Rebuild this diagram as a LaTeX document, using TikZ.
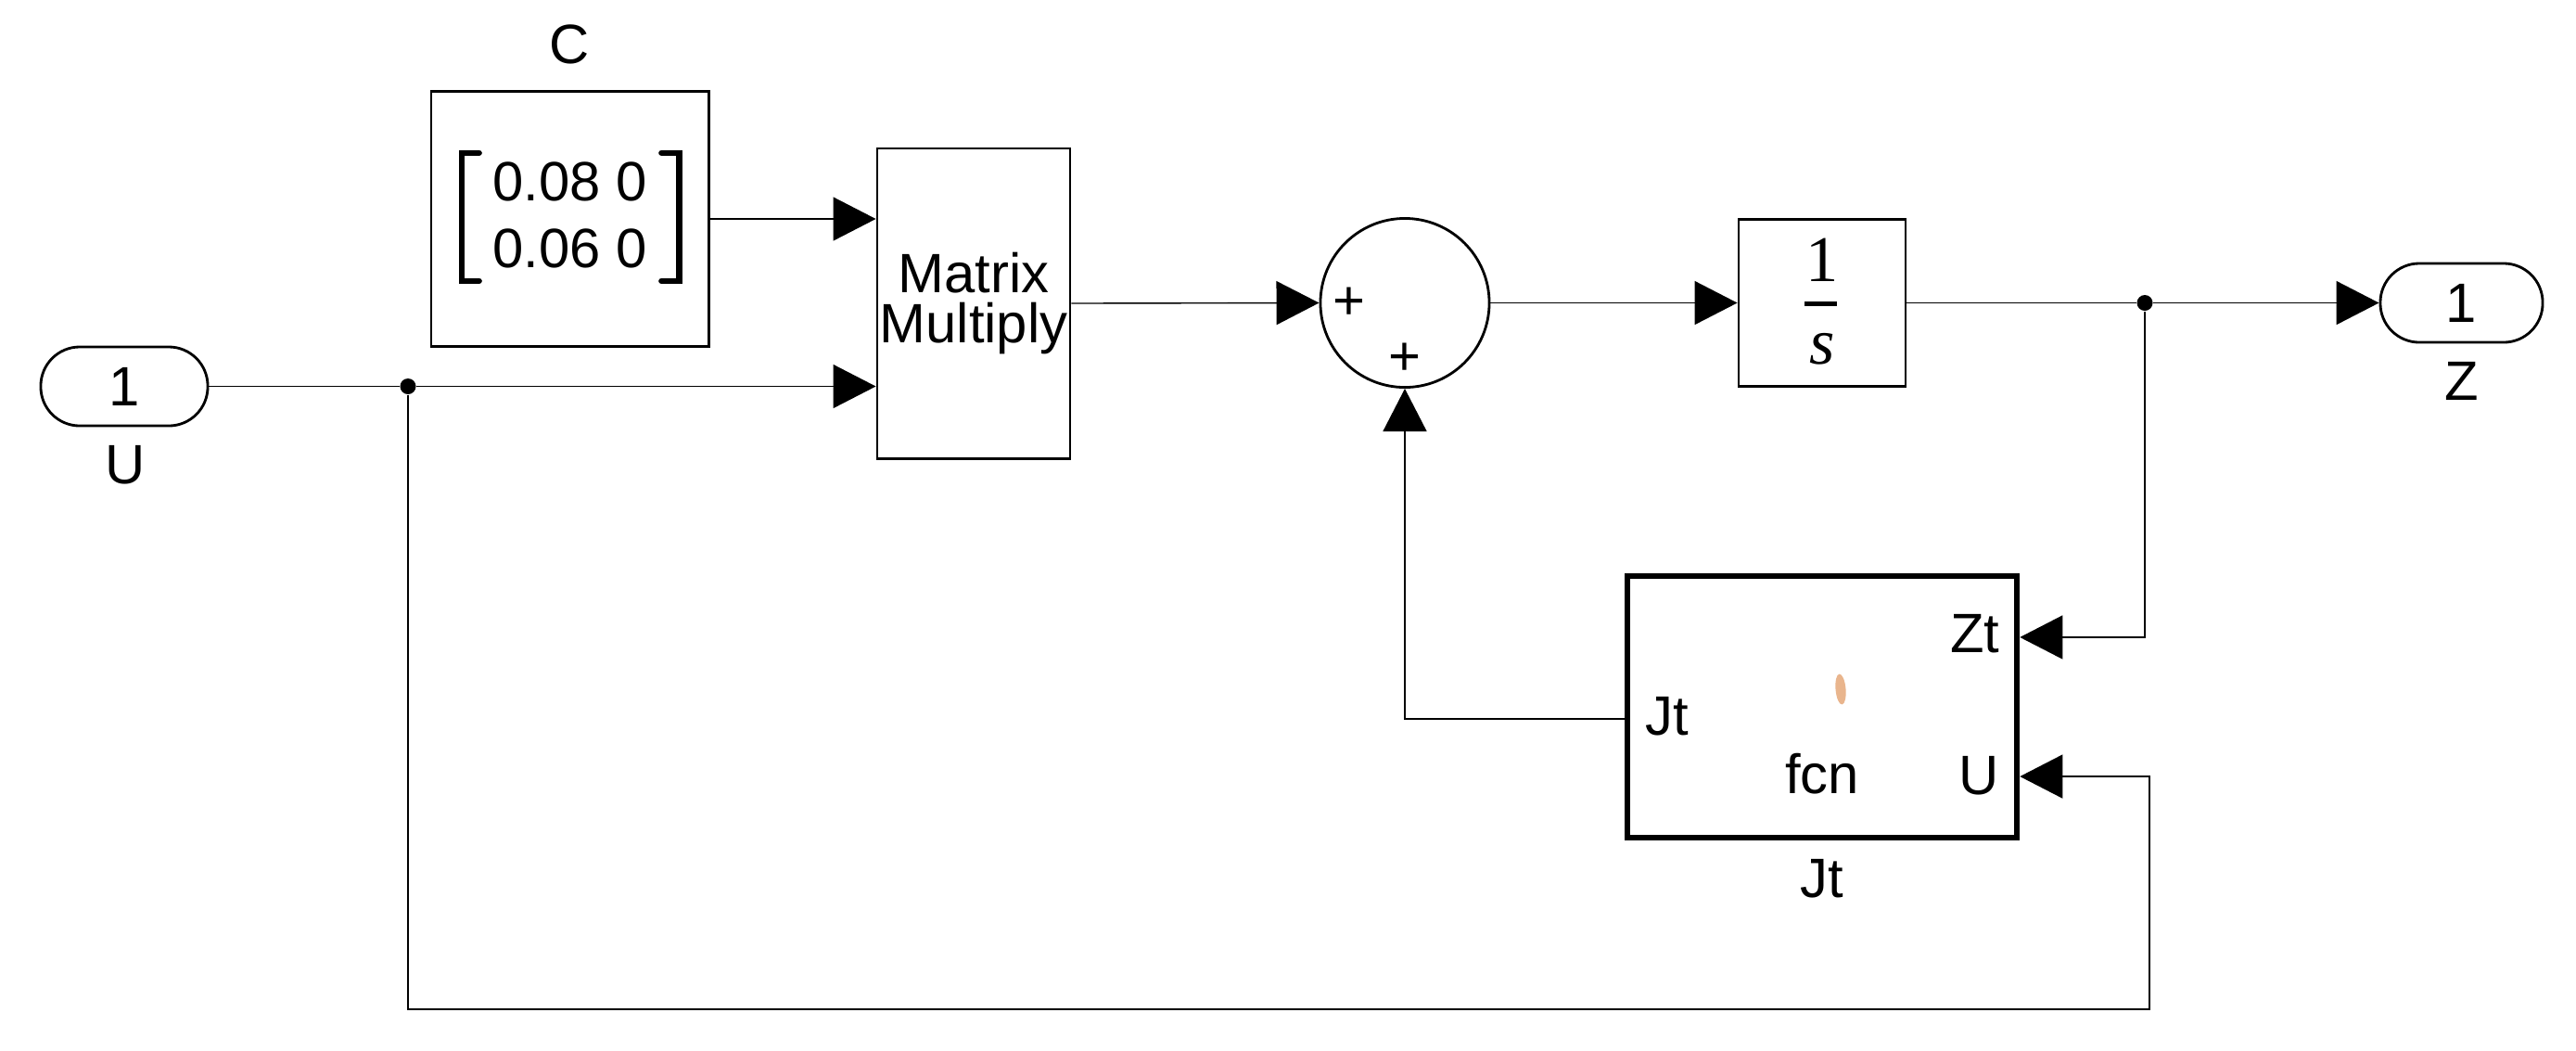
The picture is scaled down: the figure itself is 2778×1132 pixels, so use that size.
\documentclass[tikz,border=0pt]{standalone}
\usepackage{fontspec}
\setmainfont{Liberation Sans}
\setsansfont{Liberation Sans}
\newfontfamily\gainfont{Liberation Serif}
\usetikzlibrary{arrows.meta}
\usetikzlibrary{shapes}
\definecolor{fcnmark}{RGB}{233,181,141}

\begin{document}
\begin{tikzpicture}[x = 0.01cm, y = -0.01cm, font=\sffamily\fontsize{17}{20}\selectfont]
	\tikzstyle{blockStyle} = [draw, line width = 0.8pt, inner sep = 0pt]
	\tikzstyle{portStyle} = [draw, line width = 0.8pt, rounded corners = 4.2mm, minimum height = 0.85cm, inner sep = 0pt]
	\tikzstyle{sumStyle} = [draw, circle, line width = 0.8pt, minimum size = 1.82cm, inner sep = 0pt]
	\tikzstyle{fcnStyle} = [draw, line width = 1.8pt, minimum width = 4.2cm, minimum height = 2.82cm]
	\tikzstyle{dotStyle} = [circle, fill, minimum size = 0.17cm, inner sep = 0pt]
	\tikzstyle{labelStyle} = [inner sep = 0pt]
	\tikzstyle{wireStyle} = [line width = 0.4pt]
	\tikzstyle{signalStyle} = [line width = 0.4pt, -{Triangle[length = 0.46cm, width = 0.47cm]}]
	\tikzstyle{bracketStyle} = [line width = 1.8pt, line cap = round]
	\tikzstyle{gainStyle} = [inner sep = 0pt, font = \gainfont\fontsize{20}{24}\selectfont]
	\useasboundingbox (0, 0) rectangle (2778, 1132);
	\node[portStyle, minimum width = 1.80cm] (Uin) at (134, 416.5) {1};
	\node[labelStyle] (Ulabel) at (135, 501) {U};
	\node[blockStyle, minimum width = 2.99cm, minimum height = 2.75cm] (Cblk) at (614.5, 236) {};
	\node[labelStyle] (Clabel) at (614, 48) {C};
	\node[labelStyle, align = center, font = \sffamily\fontsize{17}{20.7}\selectfont] (Cval) at (614.5, 232) {0.08 0\\0.06 0};
	\node[blockStyle, minimum width = 2.08cm, minimum height = 3.34cm, align = center, font = \sffamily\fontsize{17}{15.3}\selectfont] (Mult) at (1050, 327) {Matrix\\Multiply};
	\node[sumStyle] (Sum) at (1515, 326.5) {};
	\node[labelStyle] (SumA) at (1455, 327) {+};
	\node[labelStyle] (SumB) at (1515, 387) {+};
	\node[blockStyle, minimum width = 1.80cm, minimum height = 1.80cm] (Int) at (1965, 326.5) {};
	\node[gainStyle] (IntNum) at (1965, 280) {1};
	\node[fill, minimum width = 0.35cm, minimum height = 0.05cm, inner sep = 0pt] (IntBar) at (1963, 327) {};
	\node[gainStyle, font = \gainfont\itshape\fontsize{20}{24}\selectfont] (IntDen) at (1965, 376) {s};
	\node[portStyle, minimum width = 1.75cm] (Zout) at (2654.5, 326.5) {1};
	\node[labelStyle] (Zlabel) at (2655, 411) {Z};
	\node[fcnStyle] (Jt) at (1965, 762) {};
	\node[labelStyle] (Jtlabel) at (1965, 947) {Jt};
	\node[labelStyle, anchor = east] (ZtText) at (2157, 683) {Zt};
	\node[labelStyle, anchor = east] (UText) at (2156, 836) {U};
	\node[labelStyle, anchor = west] (JtText) at (1774, 772) {Jt};
	\node[labelStyle] (fcnText) at (1965, 834) {fcn};
	\fill[fcnmark, rotate around = {5:(1985, 743)}] (1985, 743) ellipse (0.055cm and 0.165cm);
	\node[dotStyle] (dotU) at (440, 416.5) {};
	\node[dotStyle] (dotZ) at (2313, 326.5) {};
	\coordinate (JtZt) at ([yshift = 0.75cm]Jt.east);
	\coordinate (JtU) at ([yshift = -0.75cm]Jt.east);
	\coordinate (JtOut) at ([yshift = -0.13cm]Jt.west);
	\coordinate (uturn) at (2318, 1088);
	\draw[bracketStyle] ([shift = {(-0.14cm, 0.09cm)}]Cval.north west) -- ++(-0.19cm, 0) -- ++(0, -1.38cm) -- ++(0.19cm, 0);
	\draw[bracketStyle] ([shift = {(0.15cm, 0.09cm)}]Cval.north east) -- ++(0.19cm, 0) -- ++(0, -1.38cm) -- ++(-0.19cm, 0);
	\draw[signalStyle] (Cblk.east) -- (Cblk.east -| Mult.west);
	\draw[wireStyle] (Uin.east) -- (dotU);
	\draw[signalStyle] (dotU) -- (dotU -| Mult.west);
	\draw[signalStyle] (Mult.east) -- (Sum.west);
	\draw[signalStyle] (Sum.east) -- (Int.west);
	\draw[wireStyle] (Int.east) -- (dotZ);
	\draw[signalStyle] (dotZ) -- (Zout.west);
	\draw[signalStyle] (dotZ) |- (JtZt);
	\draw[signalStyle] (dotU) |- (uturn) |- (JtU);
	\draw[signalStyle] (JtOut) -| (Sum.south);
\end{tikzpicture}
\end{document}
